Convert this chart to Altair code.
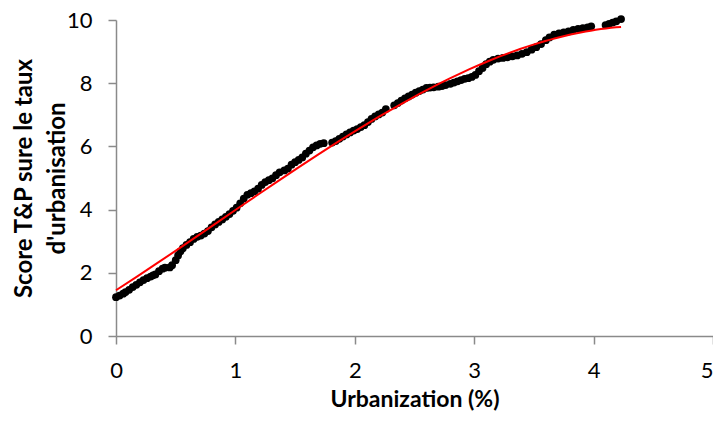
import altair as alt
import pandas as pd

urbanization = [
    0.00, 0.03, 0.06, 0.08, 0.11, 0.14, 0.17, 0.20, 0.23, 0.26, 0.29, 0.31,
    0.33, 0.36, 0.39, 0.41, 0.45, 0.47, 0.50, 0.52, 0.54, 0.56, 0.59, 0.62,
    0.65, 0.68, 0.71, 0.74, 0.77, 0.80, 0.83, 0.86, 0.89, 0.92, 0.95, 0.98,
    1.01, 1.04, 1.07, 1.10, 1.13, 1.16, 1.19, 1.22, 1.25, 1.28, 1.31, 1.34,
    1.37, 1.41, 1.44, 1.47, 1.50, 1.53, 1.56, 1.59, 1.62, 1.65, 1.68, 1.71,
    1.74, 1.81, 1.84, 1.87, 1.90, 1.93, 1.96, 1.99, 2.02, 2.05, 2.08, 2.11,
    2.14, 2.17, 2.20, 2.23, 2.26, 2.33, 2.36, 2.39, 2.42, 2.45, 2.48, 2.51,
    2.54, 2.57, 2.60, 2.63, 2.66, 2.70, 2.73, 2.76, 2.80, 2.83, 2.86, 2.89,
    2.92, 2.95, 2.98, 3.01, 3.04, 3.07, 3.10, 3.13, 3.16, 3.20, 3.24, 3.28,
    3.32, 3.36, 3.40, 3.44, 3.48, 3.52, 3.56, 3.60, 3.63, 3.67, 3.71, 3.75,
    3.79, 3.83, 3.87, 3.91, 3.95, 3.98, 4.10, 4.13, 4.16, 4.19, 4.23,
]
score = [
    1.23, 1.28, 1.34, 1.39, 1.46, 1.55, 1.62, 1.70, 1.77, 1.83, 1.88, 1.92,
    1.95, 2.05, 2.13, 2.16, 2.17, 2.24, 2.40, 2.55, 2.68, 2.78, 2.88, 2.97,
    3.07, 3.14, 3.18, 3.24, 3.32, 3.44, 3.53, 3.61, 3.69, 3.77, 3.86, 3.96,
    4.06, 4.20, 4.35, 4.47, 4.52, 4.58, 4.66, 4.78, 4.87, 4.93, 4.99, 5.09,
    5.18, 5.24, 5.30, 5.42, 5.50, 5.57, 5.65, 5.77, 5.87, 5.97, 6.03, 6.08,
    6.10, 6.12, 6.17, 6.24, 6.31, 6.38, 6.44, 6.50, 6.55, 6.61, 6.67, 6.77,
    6.87, 6.95, 7.01, 7.07, 7.18, 7.30, 7.37, 7.45, 7.52, 7.58, 7.64, 7.70,
    7.75, 7.80, 7.85, 7.86, 7.87, 7.89, 7.91, 7.94, 7.98, 8.02, 8.06, 8.10,
    8.14, 8.16, 8.20, 8.26, 8.38, 8.48, 8.60, 8.68, 8.74, 8.78, 8.80, 8.82,
    8.85, 8.88, 8.93, 8.98, 9.06, 9.14, 9.24, 9.36, 9.45, 9.54, 9.58, 9.61,
    9.64, 9.69, 9.72, 9.74, 9.77, 9.80, 9.84, 9.88, 9.92, 9.96, 10.03,
]

# red trend line
trend_x = [0.00, 0.70, 1.15, 1.53, 1.80, 2.28, 2.83, 3.30, 3.70, 4.23]
trend_y = [1.44, 3.24, 4.37, 5.31, 6.00, 7.13, 8.20, 8.98, 9.44, 9.78]

x_ticks = [0, 1, 2, 3, 4, 5]
y_ticks = [0, 2, 4, 6, 8, 10]

df = pd.DataFrame({"x": urbanization, "y": score})
df_trend = pd.DataFrame({"x": trend_x, "y": trend_y})

FONT = "Lato"
AXIS_COLOR = "#8a8a8a"

x_enc = alt.X(
    "x:Q",
    scale=alt.Scale(domain=[0, 5], nice=False, zero=False),
    axis=alt.Axis(
        title="Urbanization (%)",
        values=x_ticks,
        grid=False,
        domainColor=AXIS_COLOR,
        domainWidth=1.5,
        tickColor=AXIS_COLOR,
        tickWidth=1.5,
        tickSize=8,
        labelPadding=16,
        labelFont=FONT,
        labelFontSize=22,
        labelColor="#000000",
        labelAlign=alt.condition("datum.value == 5", alt.value("right"), alt.value("center")),
        titleFont=FONT,
        titleFontSize=23,
        titleFontWeight="bold",
        titleColor="#000000",
        titlePadding=7,
        labelFlush=False,
    ),
)
y_enc = alt.Y(
    "y:Q",
    scale=alt.Scale(domain=[0, 10], nice=False, zero=False),
    axis=alt.Axis(
        title=["Score T&P sure le taux", "d'urbanisation"],
        values=y_ticks,
        grid=False,
        domainColor=AXIS_COLOR,
        domainWidth=1.5,
        tickColor=AXIS_COLOR,
        tickWidth=1.5,
        tickSize=8,
        labelPadding=16,
        labelFont=FONT,
        labelFontSize=22,
        labelColor="#000000",
        titleFont=FONT,
        titleFontSize=24,
        titleFontWeight="bold",
        titleColor="#000000",
        titlePadding=-3,
        titleLineHeight=33,
        labelFlush=False,
    ),
)

points = alt.Chart(df).mark_circle(size=60, color="#000000", opacity=1).encode(x=x_enc, y=y_enc)

trend = (
    alt.Chart(df_trend)
    .transform_regression("x", "y", method="poly", order=3)
    .mark_line(color="#ff0000", strokeWidth=2)
    .encode(x=x_enc, y=y_enc)
)

chart = (
    alt.layer(points, trend)
    .properties(
        width=597,
        height=316,
        autosize=alt.AutoSizeParams(type="none"),
        padding={"left": 108, "top": 12, "right": 0, "bottom": 78},
        background="white",
    )
    .configure_view(stroke=None)
)

chart.save("out.html", embed_options={"renderer": "svg", "actions": False})
